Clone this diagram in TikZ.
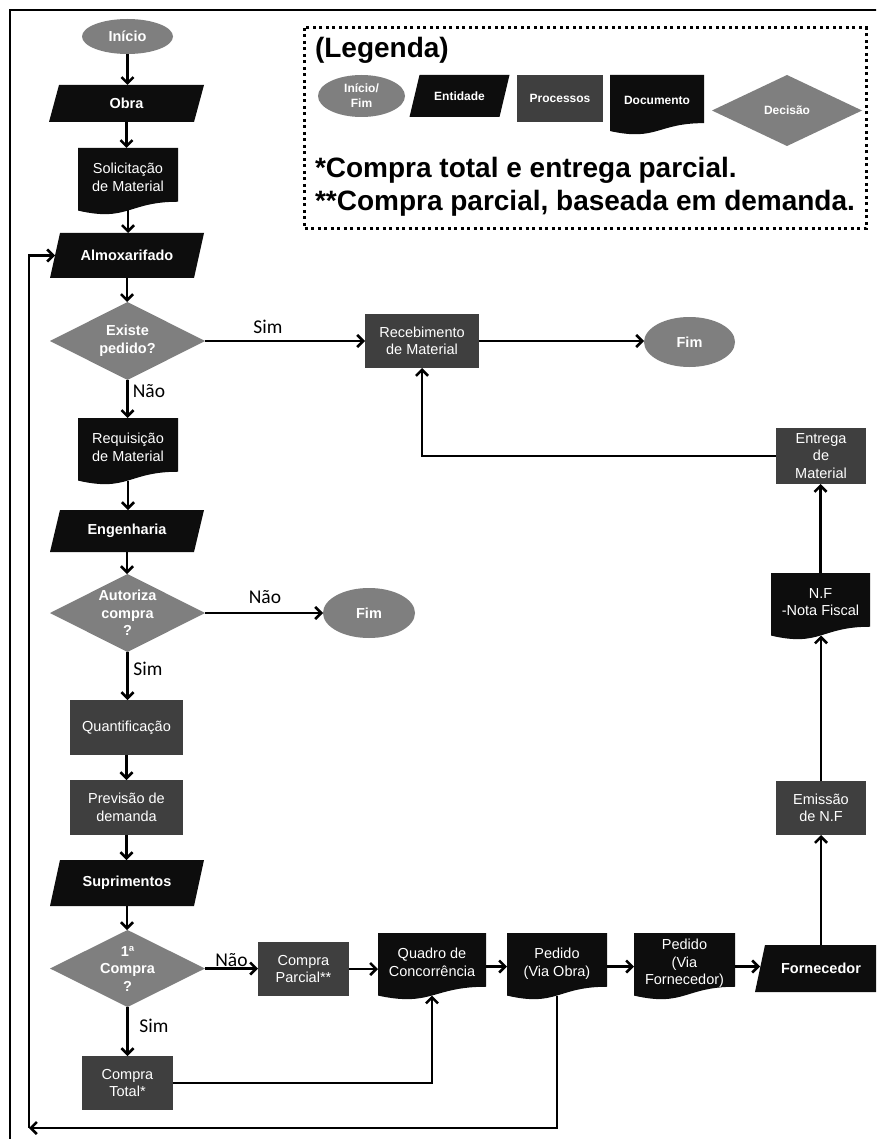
\documentclass[tikz,border=0pt]{standalone}
\usepackage{fontspec}
\setmainfont{Liberation Sans}
\newfontfamily\calib{Carlito}
\usetikzlibrary{shapes.geometric,arrows.meta,calc}
\definecolor{cgray}{RGB}{127,127,127}
\definecolor{cproc}{RGB}{63,63,63}
\definecolor{cblack}{RGB}{13,13,13}
\begin{document}
\begin{tikzpicture}[x=1pt,y=-1pt,
 every node/.style={inner sep=0pt, outer sep=0pt, align=center, text=white},
 bfont/.style={font=\fontsize{14.5}{17.5}\selectfont\bfseries},
 nfont/.style={font=\fontsize{14.5}{17.5}\selectfont},
 lfont/.style={font=\fontsize{12}{15}\selectfont\bfseries},
 sz/.style 2 args={minimum width=#1pt, minimum height=#2pt},
 term/.style={ellipse, fill=cgray, bfont},
 proc/.style={rectangle, fill=cproc, nfont},
 ent/.style={rectangle, bfont, path picture={
   \fill[cblack] ($(path picture bounding box.north west)+(10,0)$) -- (path picture bounding box.north east)
   -- ($(path picture bounding box.south east)+(-10,0)$) -- (path picture bounding box.south west) -- cycle;}},
 doc/.style={rectangle, nfont, text depth=9pt, path picture={
   \fill[cblack] (path picture bounding box.north west) -- (path picture bounding box.north east)
   -- ($(path picture bounding box.north east)!0.802!(path picture bounding box.south east)$)
   .. controls ($(path picture bounding box.north)!0.802!(path picture bounding box.south)$)
   and ($(path picture bounding box.north)!1.1075!(path picture bounding box.south)$)
   .. ($(path picture bounding box.north west)!0.934!(path picture bounding box.south west)$) -- cycle;}},
 dec/.style={rectangle, bfont, path picture={
   \fill[cgray] (path picture bounding box.north) -- (path picture bounding box.east)
   -- (path picture bounding box.south) -- (path picture bounding box.west) -- cycle;}},
 arr/.style={draw=black, line width=2.6pt, -{Straight Barb[length=6pt,width=12pt]}},
 lab/.style={text=black, font=\calib\fontsize{19.5}{22}\selectfont},
 legtext/.style={anchor=west, text=black, font=\fontsize{28}{32}\selectfont\bfseries},
]
\useasboundingbox (0,0) rectangle (876,1139);
\clip (0,0) rectangle (876,1139);
\fill[white] (0,0) rectangle (876,1139);
% outer frame
\draw[line width=2.8pt] (10,1150) -- (10,10) -- (890,10);

% legend
\draw[line width=3pt, dash pattern=on 3pt off 3.5pt] (304,28) rectangle (866,229);
\node[legtext] (legt) at (315,50) {(Legenda)};
\node[term, lfont, sz={87}{42}] (lg1) at (361.5,96) {Início/\\Fim};
\node[ent, lfont, sz={100}{42}] (lg2) at (459.5,96) {Entidade};
\node[proc, lfont, sz={86}{47}] (lg3) at (560,98.5) {Processos};
\node[doc, lfont, text depth=10pt, sz={94}{60}] (lg4) at (657,105) {Documento};
\node[dec, lfont, sz={150}{71}] (lg5) at (787,110.5) {Decisão};
\node[legtext] (n1) at (315,170) {*Compra total e entrega parcial.};
\node[legtext] (n2) at (315,203) {**Compra parcial, baseada em demanda.};

% nodes
\node[term, sz={91}{35}] (inicio) at (127.5,36.5) {Início};
\node[ent, sz={155}{37}] (obra) at (126.5,103.5) {Obra};
\node[doc, sz={100}{67}] (solic) at (128,181.5) {Solicitação\\de Material};
\node[ent, sz={154}{45}] (alm) at (127,255.5) {Almoxarifado};
\node[dec, sz={155}{78}] (exist) at (127.5,341) {Existe\\pedido?};
\node[proc, sz={114}{54}] (receb) at (422,341) {Recebimento\\de Material};
\node[term, sz={91}{50}] (fim1) at (689.5,342) {Fim};
\node[doc, sz={100}{67}] (req) at (128,451.5) {Requisição\\de Material};
\node[ent, sz={154}{42}] (eng) at (127,531) {Engenharia};
\node[dec, sz={155}{78}] (autor) at (127.5,613) {Autoriza\\compra\\?};
\node[term, sz={92}{50}] (fim2) at (369,613) {Fim};
\node[proc, sz={113}{55}] (quant) at (126.5,727.5) {Quantificação};
\node[proc, sz={113}{55}] (prev) at (126.5,807.5) {Previsão de\\demanda};
\node[ent, sz={154}{46}] (sup) at (127,883) {Suprimentos};
\node[dec, sz={155}{77}] (comp1) at (127.5,968.5) {1ª\\Compra\\?};
\node[proc, sz={91}{54}] (parc) at (303.5,969) {Compra\\Parcial**};
\node[doc, sz={108}{67}] (quadro) at (432,966.5) {Quadro de\\Concorrência};
\node[doc, sz={100}{67}] (pobra) at (557,966.5) {Pedido\\(Via Obra)};
\node[doc, sz={101}{67}] (pforn) at (684.5,966.5) {Pedido\\(Via\\Fornecedor)};
\node[ent, sz={132}{47}] (forn) at (821,968.5) {Fornecedor};
\node[proc, sz={90}{54}] (emis) at (821,808) {Emissão\\de N.F};
\node[doc, sz={99}{67}] (nf) at (820.5,606.5) {N.F\\-Nota Fiscal};
\node[proc, sz={90}{56}] (entr) at (821,456) {Entrega\\de\\Material};
\node[proc, sz={91}{54}] (total) at (127.5,1083) {Compra\\Total*};

% labels
\node[lab] (l1) at (268,327) {Sim};
\node[lab] (l2) at (149,391) {Não};
\node[lab] (l3) at (265,597) {Não};
\node[lab] (l4) at (148,669) {Sim};
\node[lab] (l5) at (231.5,960) {Não};
\node[lab] (l6) at (154,1026) {Sim};

% connectors
\draw[arr] (inicio.south) -- (inicio.south |- obra.north);
\draw[arr] (obra.south) -- (obra.south |- solic.north);
\draw[arr] ($(solic.south)+(0,-4.5)$) -- (solic.south |- alm.north);
\draw[arr] (alm.south) -- (alm.south |- exist.north);
\draw[arr] (exist.east) -- (receb.west);
\draw[arr] (receb.east) -- (receb.east -| fim1.west);
\draw[arr] (exist.south) -- (exist.south |- req.north);
\draw[arr] ($(req.south)+(0,-4.5)$) -- (req.south |- eng.north);
\draw[arr] (eng.south) -- (eng.south |- autor.north);
\draw[arr] (autor.east) -- (fim2.west);
\draw[arr] (autor.south) -- (autor.south |- quant.north);
\draw[arr] (quant.south) -- (quant.south |- prev.north);
\draw[arr] (prev.south) -- (prev.south |- sup.north);
\draw[arr] (sup.south) -- (sup.south |- comp1.north);
\draw[arr] (comp1.east) -- (comp1.east -| parc.west);
\draw[arr] (comp1.south) -- (comp1.south |- total.north);
\draw[arr] (parc.east) -- (parc.east -| quadro.west);
\draw[arr] (total.east) -| ($(quadro.south)+(0,-4.5)$);
\draw[arr] (quadro.east) -- (pobra.west);
\draw[arr] (pobra.east) -- (pforn.west);
\draw[arr] (pforn.east) -- ([xshift=5pt]pforn.east -| forn.west);
\draw[arr] (forn.north) -- (forn.north |- emis.south);
\draw[arr] (emis.north) -- ($(emis.north |- nf.south)+(0,-4.5)$);
\draw[arr] (nf.north) -- (nf.north |- entr.south);
\draw[arr] (entr.west) -| (receb.south);
\coordinate (corner) at (29,1128);
\draw[arr] ($(pobra.south)+(0,-4.5)$) |- (corner);
\draw[arr] (corner) |- ([xshift=5pt]alm.west);
\end{tikzpicture}
\end{document}
